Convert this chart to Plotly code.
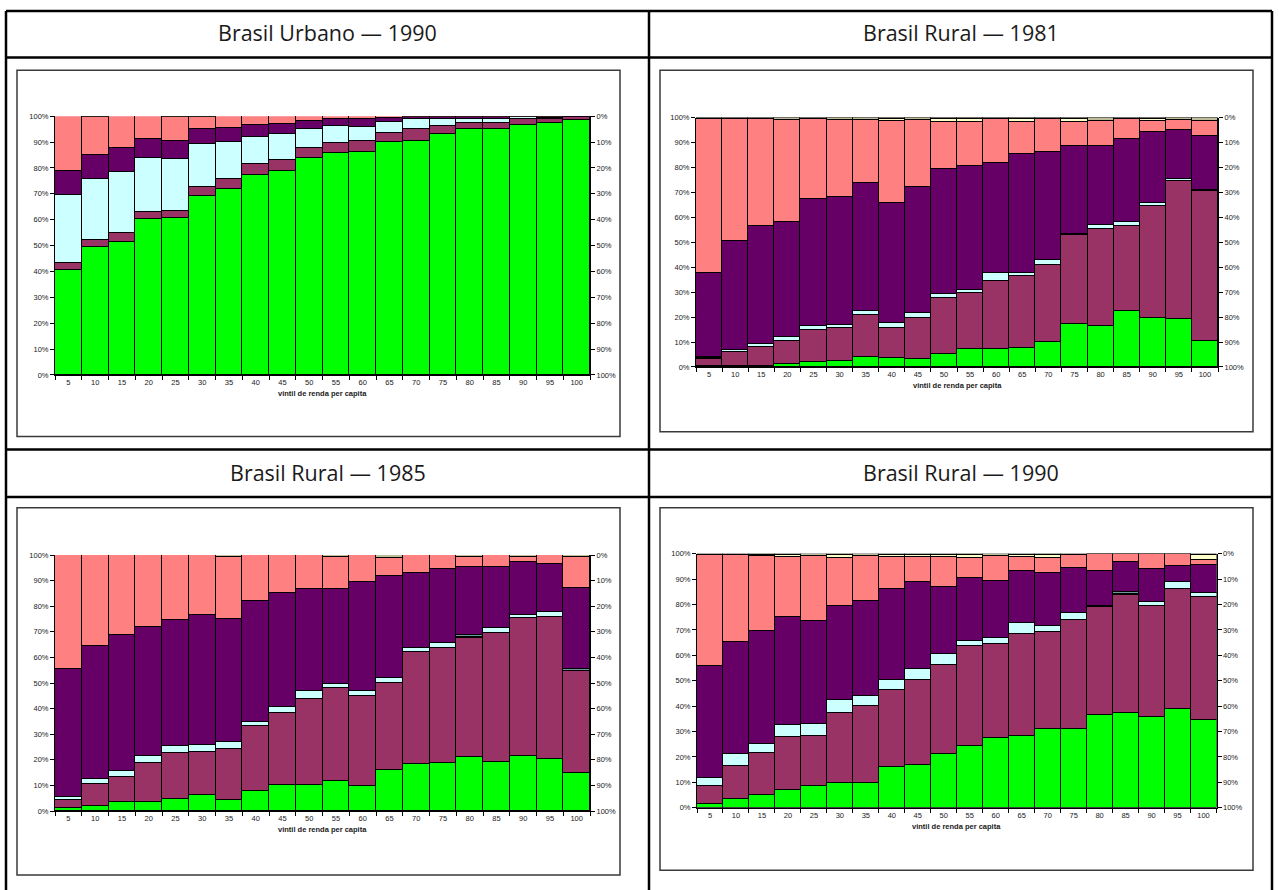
import plotly.graph_objects as go

W, H = 1279, 890

# vintis de renda per capita
vintis = ["5", "10", "15", "20", "25", "30", "35", "40", "45", "50",
          "55", "60", "65", "70", "75", "80", "85", "90", "95", "100"]

# Brasil Urbano - 1990 (% em cada vintil, da base ao topo)
urb90_verde = [40.5, 49.4, 51.4, 60.3, 60.6, 69.1, 71.7, 77.3, 78.8, 83.7, 85.7, 86.1, 89.8, 90.3, 93.0, 94.9, 94.8, 96.6, 97.2, 98.3]
urb90_vinho = [2.5, 2.8, 3.4, 2.6, 2.8, 3.5, 4.1, 4.2, 4.2, 3.8, 3.8, 4.2, 3.7, 4.6, 3.2, 2.3, 2.4, 2.1, 1.8, 1.4]
urb90_ciano = [26.3, 23.6, 23.5, 20.9, 19.8, 16.7, 14.0, 10.3, 10.0, 7.5, 6.7, 5.6, 4.2, 3.8, 2.8, 1.5, 1.5, 0.8, 0.4, 0.1]
urb90_cinza = [0] * 20
urb90_roxo = [9.3, 9.3, 9.3, 7.4, 7.1, 5.6, 5.6, 4.6, 3.8, 3.0, 2.7, 2.8, 1.5, 0.8, 0.6, 1.0, 1.0, 0.3, 0.4, 0.1]
urb90_salmao = [21.4, 14.4, 12.4, 8.8, 9.2, 4.6, 4.6, 3.6, 3.2, 2.0, 1.1, 1.3, 0.8, 0.5, 0.4, 0.3, 0.3, 0.2, 0.2, 0.1]
urb90_amarelo = [0] * 20
urb90_caqui = [0, 0.5, 0, 0, 0.5, 0.5, 0, 0, 0, 0, 0, 0, 0, 0, 0, 0, 0, 0, 0, 0]

# Brasil Rural - 1981
rur81_verde = [0.4, 0.4, 0.7, 1.3, 2.2, 2.5, 4.0, 3.7, 3.2, 5.3, 7.3, 7.5, 7.9, 10.3, 17.5, 16.8, 22.8, 19.8, 19.6, 10.8]
rur81_vinho = [2.8, 5.8, 7.5, 9.3, 13.0, 13.4, 17.2, 12.2, 16.6, 22.7, 22.7, 27.3, 28.7, 30.7, 35.4, 38.8, 33.8, 44.8, 55.3, 60.0]
rur81_ciano = [0.5, 0.9, 1.3, 1.8, 1.3, 1.3, 1.3, 2.0, 1.9, 1.6, 1.1, 2.9, 1.1, 2.0, 0.7, 1.5, 1.9, 1.3, 0.5, 0.2]
rur81_cinza = [0.4, 0, 0, 0, 0, 0, 0, 0, 0, 0, 0, 0, 0, 0, 0, 0, 0, 0, 0, 0]
rur81_roxo = [33.9, 43.4, 47.4, 46.1, 51.2, 51.3, 51.3, 48.0, 50.8, 49.8, 49.6, 44.3, 48.0, 43.2, 35.3, 31.5, 33.0, 28.5, 19.8, 21.9]
rur81_salmao = [61.6, 49.0, 42.6, 40.6, 31.8, 30.7, 25.3, 33.0, 26.7, 19.1, 17.6, 17.6, 12.8, 13.3, 9.5, 10.3, 8.0, 4.5, 4.0, 6.0]
rur81_amarelo = [0, 0, 0, 0, 0, 0, 0, 0.8, 0, 1.2, 1.4, 0, 1.1, 0, 1.2, 0, 0, 0.7, 0, 0]
rur81_caqui = [0.4, 0.5, 0.5, 0.9, 0.5, 0.8, 0.9, 0.3, 0.8, 0.3, 0.3, 0.4, 0.4, 0.5, 0.4, 1.1, 0.5, 0.4, 0.8, 1.1]

# Brasil Rural - 1985
rur85_verde = [1.0, 2.1, 3.5, 3.7, 4.6, 6.1, 4.3, 8.0, 10.1, 10.2, 11.7, 9.8, 16.2, 18.4, 18.8, 21.0, 19.3, 21.6, 20.4, 14.9]
rur85_vinho = [3.3, 8.3, 9.8, 15.1, 18.1, 17.1, 20.1, 25.2, 28.3, 33.7, 36.5, 35.0, 33.8, 43.6, 45.0, 46.5, 50.3, 53.7, 55.5, 39.6]
rur85_ciano = [1.2, 2.2, 2.2, 2.6, 2.8, 2.6, 2.4, 1.6, 2.3, 3.0, 1.5, 2.2, 2.1, 1.7, 1.7, 0.4, 1.8, 1.1, 1.9, 0]
rur85_cinza = [0, 0, 0, 0, 0, 0, 0, 0, 0, 0, 0, 0, 0, 0, 0, 0.7, 0, 0, 0, 0.8]
rur85_roxo = [50.0, 52.0, 53.1, 50.6, 49.2, 50.9, 48.3, 47.3, 44.4, 40.0, 37.2, 42.6, 39.8, 29.3, 29.1, 26.8, 24.0, 21.0, 18.8, 31.8]
rur85_salmao = [44.5, 35.4, 31.4, 28.0, 25.3, 23.3, 24.3, 17.9, 14.9, 13.1, 12.5, 10.4, 7.1, 7.0, 5.4, 3.8, 4.6, 2.0, 3.4, 12.1]
rur85_amarelo = [0] * 20
rur85_caqui = [0, 0, 0, 0, 0, 0, 0.6, 0, 0, 0, 0.6, 0, 1.0, 0, 0, 0.8, 0, 0.6, 0, 0.8]

# Brasil Rural - 1990
rur90_verde = [1.6, 3.6, 5.3, 7.3, 8.8, 9.9, 9.9, 16.1, 16.9, 21.4, 24.3, 27.7, 28.4, 31.2, 31.3, 36.5, 37.5, 35.8, 39.2, 34.5]
rur90_vinho = [7.0, 12.8, 16.5, 20.5, 19.5, 27.5, 30.1, 30.4, 33.5, 35.0, 39.5, 36.7, 40.3, 38.0, 42.6, 42.6, 46.4, 43.7, 47.0, 48.4]
rur90_ciano = [3.1, 4.9, 3.4, 4.8, 4.9, 5.2, 4.2, 4.1, 4.5, 4.1, 1.8, 2.7, 4.0, 2.4, 3.0, 0.2, 0.2, 1.8, 2.9, 1.8]
rur90_cinza = [0, 0, 0, 0, 0, 0, 0, 0, 0, 0, 0, 0, 0, 0, 0, 0.4, 0.8, 0, 0, 0]
rur90_roxo = [44.1, 44.0, 44.4, 42.5, 40.6, 37.0, 37.4, 35.6, 33.9, 26.5, 24.8, 22.3, 20.7, 21.1, 17.5, 13.7, 12.0, 12.7, 6.2, 10.9]
rur90_salmao = [43.7, 34.2, 29.6, 23.7, 25.4, 18.8, 17.6, 12.8, 9.9, 11.7, 8.0, 9.7, 5.6, 5.7, 5.1, 6.6, 3.1, 6.0, 4.7, 1.9]
rur90_amarelo = [0, 0, 0.5, 0.9, 0, 1.2, 0, 0.7, 1.0, 1.0, 1.3, 0, 0.7, 1.3, 0, 0, 0, 0, 0, 2.1]
rur90_caqui = [0.5, 0.5, 0.3, 0.3, 0.8, 0.4, 0.8, 0.3, 0.3, 0.3, 0.3, 0.9, 0.3, 0.3, 0.5, 0, 0, 0, 0, 0.4]

cores = ["#00FF00", "#993366", "#CCFFFF", "#6F9A9A", "#660066", "#FF8080", "#FFFFCC", "#BDBD9C"]

paineis = [
    ("Brasil Urbano — 1990",
     [urb90_verde, urb90_vinho, urb90_ciano, urb90_cinza, urb90_roxo, urb90_salmao, urb90_amarelo, urb90_caqui],
     (55, 590, 113.3, 374.7), (17, 620, 67, 437), (327.5, 29)),
    ("Brasil Rural — 1981",
     [rur81_verde, rur81_vinho, rur81_ciano, rur81_cinza, rur81_roxo, rur81_salmao, rur81_amarelo, rur81_caqui],
     (696, 1218, 114.7, 366.7), (660, 1253, 67, 432), (960.5, 29)),
    ("Brasil Rural — 1985",
     [rur85_verde, rur85_vinho, rur85_ciano, rur85_cinza, rur85_roxo, rur85_salmao, rur85_amarelo, rur85_caqui],
     (55, 590, 556.7, 815.3), (17, 620, 509, 880), (327.5, 473)),
    ("Brasil Rural — 1990",
     [rur90_verde, rur90_vinho, rur90_ciano, rur90_cinza, rur90_roxo, rur90_salmao, rur90_amarelo, rur90_caqui],
     (697, 1216.5, 555.3, 812), (660, 1253, 509, 875), (960.5, 473)),
]


def px(x):
    return x / W


def py(y):
    return 1 - y / H


fig = go.Figure()
layout = dict(
    width=W, height=H, margin=dict(l=0, r=0, t=0, b=0),
    paper_bgcolor="white", plot_bgcolor="white",
    barmode="stack", bargap=0, showlegend=False,
    shapes=[], annotations=[],
)

tick_font = dict(family="Liberation Sans, Arial", size=7.5, color="#1a1a1a")

for i, (titulo, series, area, caixa, centro) in enumerate(paineis):
    n = i + 1
    xa = "x" if n == 1 else f"x{n}"
    ya = "y" if n == 1 else f"y{n}"
    yr = f"y{n + 4}"
    for vals, cor in zip(series, cores):
        fig.add_trace(go.Bar(
            x=vintis, y=vals, xaxis=xa, yaxis=ya,
            marker=dict(color=cor, line=dict(color="black", width=1)),
            hoverinfo="skip",
        ))
    # traço vazio para ancorar o eixo da direita
    fig.add_trace(go.Scatter(x=[vintis[0]], y=[None], xaxis=xa, yaxis=yr,
                             mode="lines", hoverinfo="skip"))

    x0, x1, y0, y1 = area
    layout[f"xaxis{'' if n == 1 else n}"] = dict(
        domain=[px(x0), px(x1)], anchor=ya, type="category",
        range=[-0.5, len(vintis) - 0.5],
        tickson="boundaries", ticks="outside", ticklen=4, tickcolor="black",
        showline=True, linecolor="black", linewidth=1, showgrid=False,
        tickfont=tick_font, fixedrange=True,
    )
    layout[f"yaxis{'' if n == 1 else n}"] = dict(
        domain=[py(y1), py(y0)], anchor=xa, range=[0, 100], dtick=10,
        ticksuffix="%", ticks="outside", ticklen=4, tickcolor="black",
        showline=True, linecolor="black", linewidth=1, showgrid=False,
        zeroline=False, tickfont=tick_font, fixedrange=True,
    )
    layout[f"yaxis{n + 4}"] = dict(
        overlaying=ya, anchor=xa, side="right", range=[100, 0], dtick=10,
        ticksuffix="%", ticks="outside", ticklen=4, tickcolor="black",
        showline=True, linecolor="black", linewidth=1, showgrid=False,
        zeroline=False, tickfont=tick_font, fixedrange=True,
    )

    # moldura do gráfico
    bx0, bx1, by0, by1 = caixa
    layout["shapes"].append(dict(
        type="rect", xref="paper", yref="paper",
        x0=px(bx0), x1=px(bx1), y0=py(by1), y1=py(by0),
        line=dict(color="#3a3a3a", width=1.5), layer="below",
    ))
    # título do eixo x
    layout["annotations"].append(dict(
        text="<b>vintil de renda per capita</b>", xref="paper", yref="paper",
        x=px((x0 + x1) / 2), y=py(y1 + 19), showarrow=False,
        xanchor="center", yanchor="middle",
        font=dict(family="Liberation Sans, Arial", size=7.5, color="#1a1a1a"),
    ))
    # cabeçalho da célula
    layout["annotations"].append(dict(
        text=titulo, xref="paper", yref="paper",
        x=px(centro[0]), y=py(centro[1]), showarrow=False,
        xanchor="center", yanchor="middle",
        font=dict(family="Open Sans", size=21.5, color="#1a1a1a"),
    ))

# linhas da tabela
linha = dict(color="black", width=2.5)
for yy in (7, 54, 450, 498):
    layout["shapes"].append(dict(type="line", xref="paper", yref="paper",
                                 x0=px(6), x1=px(1272), y0=py(yy), y1=py(yy), line=linha))
for xx in (6, 649, 1272):
    layout["shapes"].append(dict(type="line", xref="paper", yref="paper",
                                 x0=px(xx), x1=px(xx), y0=py(7), y1=py(900), line=linha))

fig.update_layout(**layout)
fig.write_html("out.html")
